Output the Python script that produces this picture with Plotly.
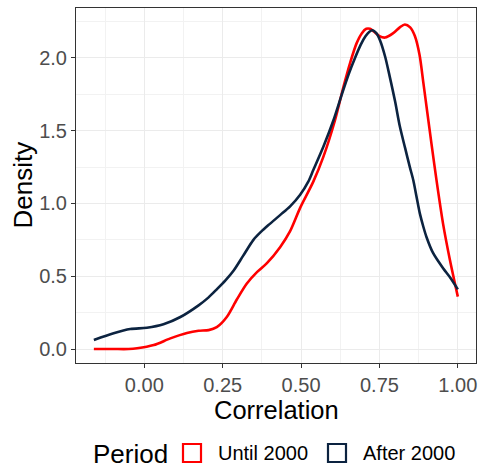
import plotly.graph_objects as go

# Density estimates of correlation, by period
series_names = ["Until 2000", "After 2000"]
series_colors = ["#FF0000", "#0C2340"]

until_x = [-0.161, -0.10, -0.05, -0.023, 0.03, 0.083, 0.136, 0.173, 0.205, 0.231, 0.263, 0.295,
           0.327, 0.36, 0.391, 0.433, 0.465, 0.497, 0.539, 0.571, 0.608, 0.635, 0.657, 0.677,
           0.694, 0.708, 0.720, 0.733, 0.750, 0.768, 0.794, 0.815, 0.831, 0.848, 0.863, 0.878,
           0.890, 0.903, 0.916, 0.932, 0.953, 0.975, 1.0]
until_y = [0.0, 0.0, 0.0, 0.005, 0.027, 0.073, 0.11, 0.125, 0.13, 0.15, 0.22, 0.34,
           0.45, 0.53, 0.59, 0.70, 0.81, 0.97, 1.15, 1.32, 1.57, 1.80, 1.97, 2.10,
           2.17, 2.20, 2.20, 2.18, 2.15, 2.14, 2.17, 2.21, 2.23, 2.21, 2.15, 2.02,
           1.83, 1.62, 1.41, 1.16, 0.86, 0.61, 0.36]

after_x = [-0.161, -0.098, -0.045, 0.008, 0.061, 0.115, 0.173, 0.205, 0.231, 0.258, 0.285, 0.315,
           0.348, 0.372, 0.395, 0.433, 0.465, 0.497, 0.523, 0.539, 0.571, 0.603, 0.630, 0.652,
           0.672, 0.690, 0.706, 0.718, 0.728, 0.740, 0.752, 0.768, 0.783, 0.800, 0.815, 0.832,
           0.847, 0.858, 0.868, 0.879, 0.890, 0.900, 0.921, 0.953, 0.976, 1.0]
after_y = [0.062, 0.108, 0.137, 0.146, 0.17, 0.22, 0.30, 0.355, 0.41, 0.47, 0.54, 0.64,
           0.75, 0.805, 0.85, 0.92, 0.98, 1.06, 1.15, 1.23, 1.39, 1.57, 1.75, 1.89,
           2.00, 2.09, 2.15, 2.18, 2.19, 2.17, 2.12, 2.01, 1.87, 1.70, 1.53, 1.38,
           1.25, 1.16, 1.05, 0.93, 0.84, 0.77, 0.66, 0.555, 0.49, 0.41]

x_ticks = [0.0, 0.25, 0.5, 0.75, 1.0]
x_labels = ["0.00", "0.25", "0.50", "0.75", "1.00"]
y_ticks = [0.0, 0.5, 1.0, 1.5, 2.0]
y_labels = ["0.0", "0.5", "1.0", "1.5", "2.0"]

FONT = "Liberation Sans, Arial, sans-serif"
L, R, T, B = 76, 3, 8, 107
W, H = 479, 470
PW, PH = W - L - R, H - T - B

fig = go.Figure()
for name, xs, ys, col in zip(series_names, [until_x, after_x], [until_y, after_y], series_colors):
    fig.add_trace(go.Scatter(x=xs, y=ys, mode="lines", name=name, showlegend=False,
                             line=dict(color=col, width=2.6, shape="spline", smoothing=0.8)))

axis_common = dict(showline=True, mirror=True, linecolor="#333333", linewidth=1.1,
                   ticks="outside", ticklen=4, tickcolor="#333333", tickwidth=1.1,
                   showgrid=True, gridcolor="#EBEBEB", gridwidth=1.1, zeroline=False,
                   tickfont=dict(family=FONT, size=20, color="#4D4D4D"))

fig.update_xaxes(range=[-0.218, 1.058], tickvals=x_ticks, ticktext=x_labels,
                 minor=dict(tick0=0.125, dtick=0.25, showgrid=True, gridcolor="#F2F2F2",
                            gridwidth=0.6, ticks=""),
                 **axis_common)
fig.update_yaxes(range=[-0.096, 2.343], tickvals=y_ticks, ticktext=y_labels,
                 minor=dict(tick0=0.25, dtick=0.5, showgrid=True, gridcolor="#F2F2F2",
                            gridwidth=0.6, ticks=""),
                 **axis_common)

def px_x(p):
    return (p - L) / PW

def px_y(p):
    return (H - B - p) / PH

annotations = [
    dict(text="Correlation", x=0.5, y=px_y(410), xref="paper", yref="paper",
         showarrow=False, xanchor="center", yanchor="middle",
         font=dict(family=FONT, size=25.5, color="black")),
    dict(text="Density", x=px_x(22), y=0.5, xref="paper", yref="paper", textangle=-90,
         showarrow=False, xanchor="center", yanchor="middle",
         font=dict(family=FONT, size=26, color="black")),
    dict(text="Period", x=px_x(91), y=px_y(454), xref="paper", yref="paper",
         showarrow=False, xanchor="left", yanchor="middle",
         font=dict(family=FONT, size=26, color="black")),
]
shapes = []
legend_box_left = [182, 327]
for name, col, bx in zip(series_names, series_colors, legend_box_left):
    shapes.append(dict(type="rect", xref="paper", yref="paper",
                       x0=px_x(bx + 1), x1=px_x(bx + 19), y0=px_y(462), y1=px_y(444),
                       line=dict(color=col, width=2.2), fillcolor="rgba(0,0,0,0)"))
    annotations.append(dict(text=name, x=px_x(bx + 34), y=px_y(453), xref="paper", yref="paper",
                            showarrow=False, xanchor="left", yanchor="middle",
                            font=dict(family=FONT, size=20, color="black")))

fig.update_layout(width=W, height=H, margin=dict(l=L, r=R, t=T, b=B),
                  paper_bgcolor="white", plot_bgcolor="white",
                  annotations=annotations, shapes=shapes, showlegend=False)

fig.write_html("out.html")
